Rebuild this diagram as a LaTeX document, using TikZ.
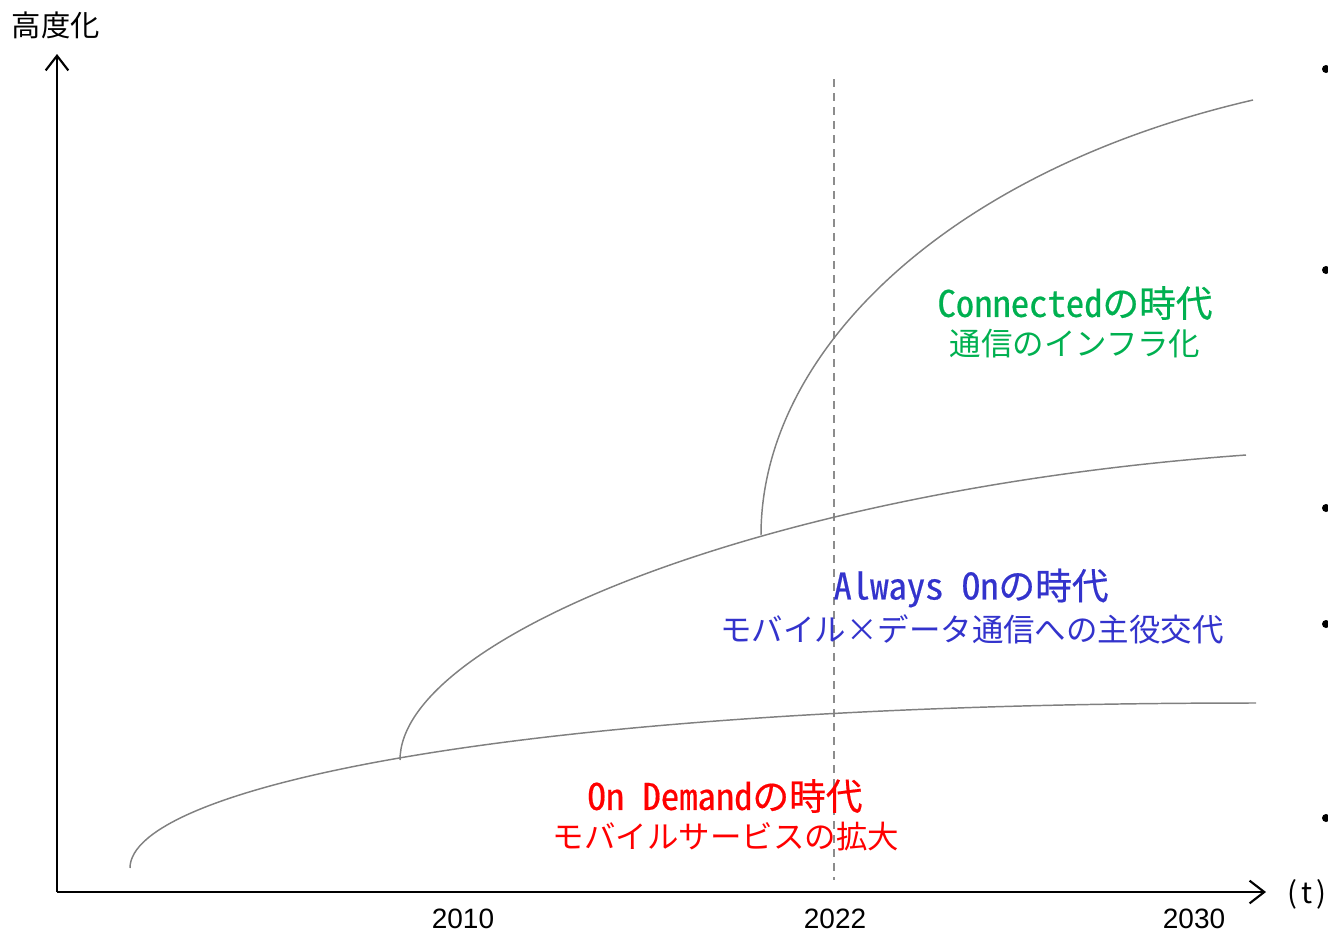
\documentclass[tikz,border=0pt]{standalone}
\usepackage{fontspec}
\usetikzlibrary{arrows.meta}
\setmainfont{Noto Sans CJK JP}
\newfontfamily\jphead{Noto Sans CJK JP}[FakeBold=0.5]
\newfontfamily\jphalf{Noto Sans CJK JP}[RawFeature=+hwid, FakeBold=0.5]
\newfontfamily\yearfont{Liberation Sans}
\definecolor{curvegray}{HTML}{808080}
\definecolor{guidegray}{HTML}{8C8C8C}
\definecolor{cgreen}{HTML}{00B050}
\definecolor{cblue}{HTML}{3333CC}
\definecolor{cred}{HTML}{FF0000}
\tikzset{
  axisline/.style={line width=1.6pt, -{Straight Barb[length=11pt,width=17pt,line width=1.6pt]}},
  curveline/.style={draw=curvegray, line width=1.1pt},
  guideline/.style={draw=guidegray, line width=1.1pt, dash pattern=on 6pt off 4.5pt},
  headtext/.style={inner sep=0pt, font=\jphead\fontsize{27.5pt}{30pt}\selectfont},
  subtext/.style={inner sep=0pt, font=\fontsize{23.6pt}{26pt}\selectfont},
  yeartext/.style={inner sep=0pt, font=\yearfont\fontsize{21pt}{24pt}\selectfont},
  axistext/.style={inner sep=0pt, font=\fontsize{22pt}{24pt}\selectfont},
  bulletdot/.style={fill=black}
}
\begin{document}
\begin{tikzpicture}[x=0.75pt,y=-0.75pt]
\useasboundingbox (0,0) rectangle (1328,933);
\clip (0,0) rectangle (1328,933);
% axes
\coordinate (O) at (57,892);
\coordinate (ytop) at (57,54);
\coordinate (xend) at (1266,892);
\draw[axisline] (O) -- (ytop);
\draw[axisline] (O) -- (xend);
\node[axistext] (ylabel) at (56,25) {高度化};
\node[axistext, anchor=east] (tlabel) at (1327,894) {(\hspace{3pt}t\hspace{3.5pt})};
% guide line at 2022
\coordinate (g1) at (834,79);
\coordinate (g2) at (834,880);
\draw[guideline] (g1) -- (g2);
% years
\node[yeartext] (y2010) at (463,919) {2010};
\node[yeartext] (y2022) at (835,919) {2022};
\node[yeartext] (y2030) at (1194,919) {2030};
% curves
\coordinate (c1s) at (130,868);
\coordinate (c1e) at (1256,703);
\coordinate (c2s) at (400,760);
\coordinate (c2e) at (1246,455);
\coordinate (c3s) at (761,535);
\coordinate (c3e) at (1253,100);
\draw[curveline] (c1s) .. controls (130,790) and (500,703) .. (c1e);
\draw[curveline] (c2s) .. controls (400,640) and (760,490) .. (c2e);
\draw[curveline] (c3s) .. controls (761,350) and (950,170) .. (c3e);
% era labels
\node[headtext, text=cgreen] (connh) at (1075,303) {{\jphalf Connected}の時代};
\node[subtext, text=cgreen] (conns) at (1075,344) {通信のインフラ化};
\node[headtext, text=cblue] (alwh) at (971,588) {{\jphalf Always On}の時代};
\node[subtext, text=cblue] (alws) at (972,629) {モバイル×データ通信への主役交代};
\node[headtext, text=cred] (demh) at (725,796) {{\jphalf On Demand}の時代};
\node[subtext, text=cred] (dems) at (726,837) {モバイルサービスの拡大};
% clipped bullets at right edge
\foreach \yy in {69,270,508,624,818}
  \fill[bulletdot] (1326,\yy) circle[radius=3pt];
\end{tikzpicture}
\end{document}
